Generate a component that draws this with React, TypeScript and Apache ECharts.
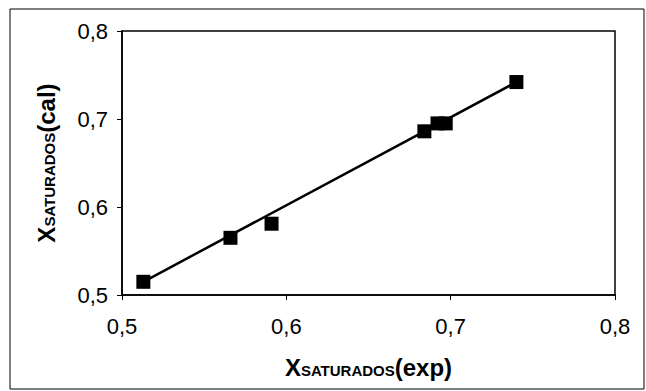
import React, { useEffect, useRef } from "react";
import * as echarts from "echarts";

// Experimental vs calculated saturated fraction
const xExp = [0.513, 0.566, 0.591, 0.684, 0.692, 0.697, 0.74];
const xCal = [0.515, 0.565, 0.581, 0.686, 0.695, 0.695, 0.742];
// Fitted straight line drawn through the points (end points)
const fitX = [0.513, 0.74];
const fitY = [0.515, 0.742];
const axisTicks = [0.5, 0.6, 0.7, 0.8];

const fmt = (v: number) => v.toFixed(1).replace(".", ",");

export default function App() {
  const ref = useRef<HTMLDivElement>(null);
  useEffect(() => {
    if (!ref.current) return;
    const chart = echarts.init(ref.current, undefined, { renderer: "svg" });
    const labelFont = "'Liberation Sans Narrow', 'Liberation Sans', Arial, sans-serif";
    const titleRich = {
      a: { fontSize: 24, fontWeight: "bold", fontFamily: "'Liberation Sans', Arial", color: "#000" },
      b: { fontSize: 15, fontWeight: "bold", fontFamily: "'Liberation Sans', Arial", color: "#000", padding: [7, 0, 0, 0] },
    };
    chart.setOption({
      animation: false,
      backgroundColor: "#fff",
      grid: {
        left: 122,
        right: 31,
        top: 31,
        bottom: 96,
        show: true,
        borderColor: "#000",
        borderWidth: 1.5,
      },
      graphic: [
        {
          type: "rect",
          shape: { x: 10, y: 9, width: 634, height: 380 },
          style: { fill: "none", stroke: "#000", lineWidth: 1 },
        },
      ],
      xAxis: {
        type: "value",
        min: axisTicks[0],
        max: axisTicks[axisTicks.length - 1],
        interval: 0.1,
        splitLine: { show: false },
        axisLine: { lineStyle: { color: "#000", width: 1.5 } },
        axisTick: { show: true, length: 5, lineStyle: { color: "#000" } },
        axisLabel: {
          margin: 20,
          fontSize: 22,
          fontFamily: labelFont,
          color: "#000",
          formatter: fmt,
        },
        name: "{a|X}{b|SATURADOS}{a|(exp)}",
        nameLocation: "middle",
        nameGap: 60,
        nameTextStyle: { rich: titleRich },
      },
      yAxis: {
        type: "value",
        min: axisTicks[0],
        max: axisTicks[axisTicks.length - 1],
        interval: 0.1,
        splitLine: { show: false },
        axisLine: { lineStyle: { color: "#000", width: 1.5 } },
        axisTick: { show: true, length: 5, lineStyle: { color: "#000" } },
        axisLabel: {
          margin: 14,
          fontSize: 22,
          fontFamily: labelFont,
          color: "#000",
          formatter: fmt,
        },
        name: "{a|X}{b|SATURADOS}{a|(cal)}",
        nameLocation: "middle",
        nameRotate: 90,
        nameGap: 64,
        nameTextStyle: { rich: titleRich },
      },
      series: [
        {
          type: "line",
          data: fitX.map((x, i) => [x, fitY[i]]),
          showSymbol: false,
          lineStyle: { color: "#000", width: 2.5 },
          z: 2,
        },
        {
          type: "scatter",
          data: xExp.map((x, i) => [x, xCal[i]]),
          symbol: "rect",
          symbolSize: 14,
          itemStyle: { color: "#000", opacity: 1 },
          z: 3,
        },
      ],
    });
    return () => chart.dispose();
  }, []);
  return <div ref={ref} style={{ width: 646, height: 391, position: "fixed", left: 0, top: 0 }} />;
}
